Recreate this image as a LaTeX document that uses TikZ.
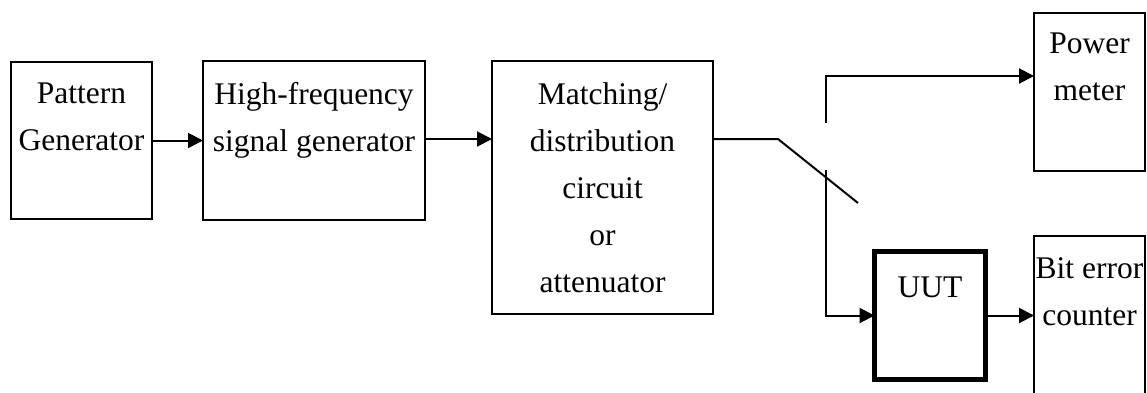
\documentclass[tikz,border=0pt]{standalone}
\usepackage{fontspec}
\setmainfont{Liberation Serif}
\usetikzlibrary{arrows.meta,calc}
\begin{document}
\begin{tikzpicture}[x=1pt,y=-1pt,
  box/.style={draw,line width=2pt,inner sep=0pt,outer sep=0pt},
  thickbox/.style={draw,line width=5pt,inner sep=0pt,outer sep=0pt},
  lbl/.style={anchor=north,align=center,inner sep=0pt,font=\fontsize{31.5}{47}\selectfont},
  wire/.style={line width=2pt},
  arr/.style={line width=2pt,-{Triangle[length=15pt,width=15pt]}}]
\clip (0,0) rectangle (1147,392);
\fill[white] (0,0) rectangle (1147,392);
% boxes
\node[box,minimum width=141,minimum height=157] (pg) at (81.5,140.5) {};
\node[box,minimum width=222,minimum height=159] (hf) at (314,140.5) {};
\node[box,minimum width=221,minimum height=253] (md) at (602.5,187.5) {};
\node[box,minimum width=111,minimum height=158] (pm) at (1089.5,92) {};
\node[box,minimum width=111,minimum height=210] (bec) at (1089.5,341) {};
\node[thickbox,minimum width=111,minimum height=128] (uut) at (930,315.5) {};
% labels
\node[lbl] (pgt) at ($(pg.north)+(0,21)$) {Pattern\\Generator};
\node[lbl] (hft) at ($(hf.north)+(0,21)$) {High-frequency\\signal generator};
\node[lbl] (mdt) at ($(md.north)+(0,21)$) {Matching/\\distribution\\circuit\\or\\attenuator};
\node[lbl] (pmt) at ($(pm.north)+(0,20)$) {Power\\meter};
\node[lbl] (bect) at ($(bec.north)+(0,21)$) {Bit error\\counter};
\node[lbl] (uutt) at ($(uut.north)+(0,25)$) {UUT};
% switch geometry
\coordinate (swa) at (778,139);
\coordinate (swb) at (858,203);
\coordinate (ct) at (826,123);
\coordinate (cb) at (826,170);
% connectors
\draw[arr] (pg.east) -- (pg.east -| hf.west);
\draw[arr] ($(hf.east)+(0,-1.5)$) -- ($(hf.east -| md.west)+(0,-1.5)$);
\draw[wire,line join=miter] (md.east |- swa) -- (swa) -- (swb);
\draw[arr] (ct) |- ($(pm.west)+(0,-16)$);
\draw[arr] (cb) |- (uut.west);
\draw[arr] (uut.east) -- (uut.east -| bec.west);
\end{tikzpicture}
\end{document}
